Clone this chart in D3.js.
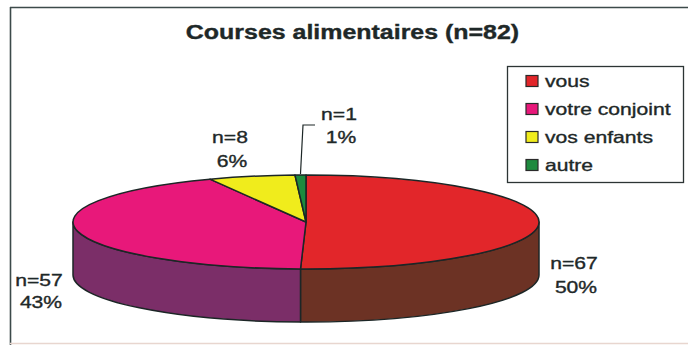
<!DOCTYPE html>
<html>
<head>
<meta charset="utf-8">
<script src="https://cdn.jsdelivr.net/npm/d3@7/dist/d3.min.js"></script>
<style>
  html, body { margin: 0; padding: 0; background: #ffffff; }
  svg { display: block; }
  text { font-family: "Liberation Sans", Arial, sans-serif; fill: #1e2828; stroke: #1e2828; stroke-width: 0.35px; }
</style>
</head>
<body>
<svg id="chart" width="688" height="345"></svg>
<script>
// Who does the grocery shopping
const title = "Courses alimentaires (n=82)";
const categories = ["vous", "votre conjoint", "vos enfants", "autre"];
const counts = [67, 57, 8, 1];
const percentLabels = ["50%", "43%", "6%", "1%"];
const topColors = ["#e2262a", "#e8187a", "#f0ec1c", "#1e8a3e"];
const sideColors = ["#6c3224", "#7b2e68", "#8a8410", "#124f24"];

const svg = d3.select("#chart");
const STRETCH = 1.28; // wide lettering

// frame
svg.append("line").attr("x1", 10).attr("y1", 7.5).attr("x2", 700).attr("y2", 7.5)
  .attr("stroke", "#3c4a4a").attr("stroke-width", 1.6);
svg.append("line").attr("x1", 10.5).attr("y1", 7).attr("x2", 10.5).attr("y2", 345)
  .attr("stroke", "#3c4a4a").attr("stroke-width", 1.6);
svg.append("line").attr("x1", 10).attr("y1", 343.5).attr("x2", 700).attr("y2", 343.5)
  .attr("stroke", "#e8d6cf").attr("stroke-width", 1.5);

// stretched text helper
function label(x, y, str, size, weight, anchor) {
  return svg.append("text")
    .attr("transform", `translate(${x},${y}) scale(${STRETCH},1)`)
    .attr("text-anchor", anchor || "middle")
    .attr("font-size", size)
    .attr("font-weight", weight || "normal")
    .text(str);
}

label(352.5, 38.5, title, 19.5, "bold");

// 3D pie geometry
const cx = 306, cy = 222, rx = 233, ry = 47, depth = 53;
const color = d3.scaleOrdinal().domain(categories).range(topColors);
const sideColor = d3.scaleOrdinal().domain(categories).range(sideColors);

const pie = d3.pie().sort(null).value(d => d.v).startAngle(0).endAngle(2 * Math.PI);
const arcs = pie(categories.map((c, i) => ({ c, v: counts[i] })));

const px = a => cx + rx * Math.sin(a);
const py = a => cy - ry * Math.cos(a);
const stroke = "#1c2626";

// walls: only the front half (angles between pi/2 and 3pi/2) shows
const gWalls = svg.append("g");
arcs.forEach(d => {
  const a0 = Math.max(d.startAngle, Math.PI / 2);
  const a1 = Math.min(d.endAngle, 3 * Math.PI / 2);
  if (a1 <= a0) return;
  const large = (a1 - a0) > Math.PI ? 1 : 0;
  const p = `M${px(a0)},${py(a0)}` +
    `A${rx},${ry} 0 ${large} 1 ${px(a1)},${py(a1)}` +
    `L${px(a1)},${py(a1) + depth}` +
    `A${rx},${ry} 0 ${large} 0 ${px(a0)},${py(a0) + depth}Z`;
  gWalls.append("path").attr("d", p)
    .attr("fill", sideColor(d.data.c))
    .attr("stroke", stroke).attr("stroke-width", 1.5).attr("stroke-linejoin", "round");
});

// top faces
const gTop = svg.append("g");
arcs.forEach(d => {
  const a0 = d.startAngle, a1 = d.endAngle;
  const large = (a1 - a0) > Math.PI ? 1 : 0;
  const p = `M${cx},${cy}L${px(a0)},${py(a0)}` +
    `A${rx},${ry} 0 ${large} 1 ${px(a1)},${py(a1)}Z`;
  gTop.append("path").attr("d", p)
    .attr("fill", color(d.data.c))
    .attr("stroke", stroke).attr("stroke-width", 1.5).attr("stroke-linejoin", "round");
});

// data labels
const labelPos = [
  { x: 574, y1: 269, y2: 293 },
  { x: 39, y1: 286, y2: 308 },
  { x: 230, y1: 143, y2: 167 },
  { x: 339, y1: 120, y2: 143 }
];
arcs.forEach((d, i) => {
  label(labelPos[i].x, labelPos[i].y1, "n=" + counts[i], 16.5);
  label(labelPos[i].x + 2, labelPos[i].y2, percentLabels[i], 16.5);
});

// leader line for the smallest slice
const small = arcs[3];
const midA = (small.startAngle + small.endAngle) / 2;
svg.append("polyline")
  .attr("points", `${px(midA)},${py(midA) - 1} ${303},${125} ${315},${125}`)
  .attr("fill", "none").attr("stroke", stroke).attr("stroke-width", 1.2);

// legend
const lg = svg.append("g");
lg.append("rect").attr("x", 507.5).attr("y", 66.5).attr("width", 176).attr("height", 116)
  .attr("fill", "#ffffff").attr("stroke", "#2c3434").attr("stroke-width", 1.3);
const rowY = d3.scalePoint().domain(categories).range([81, 165]);
categories.forEach(c => {
  const y = rowY(c);
  lg.append("rect").attr("x", 526).attr("y", y - 5.5).attr("width", 12).attr("height", 11)
    .attr("fill", color(c)).attr("stroke", "#2a2a2a").attr("stroke-width", 1.2);
  label(545, y + 6, c, 16.5, "normal", "start");
});
</script>
</body>
</html>
